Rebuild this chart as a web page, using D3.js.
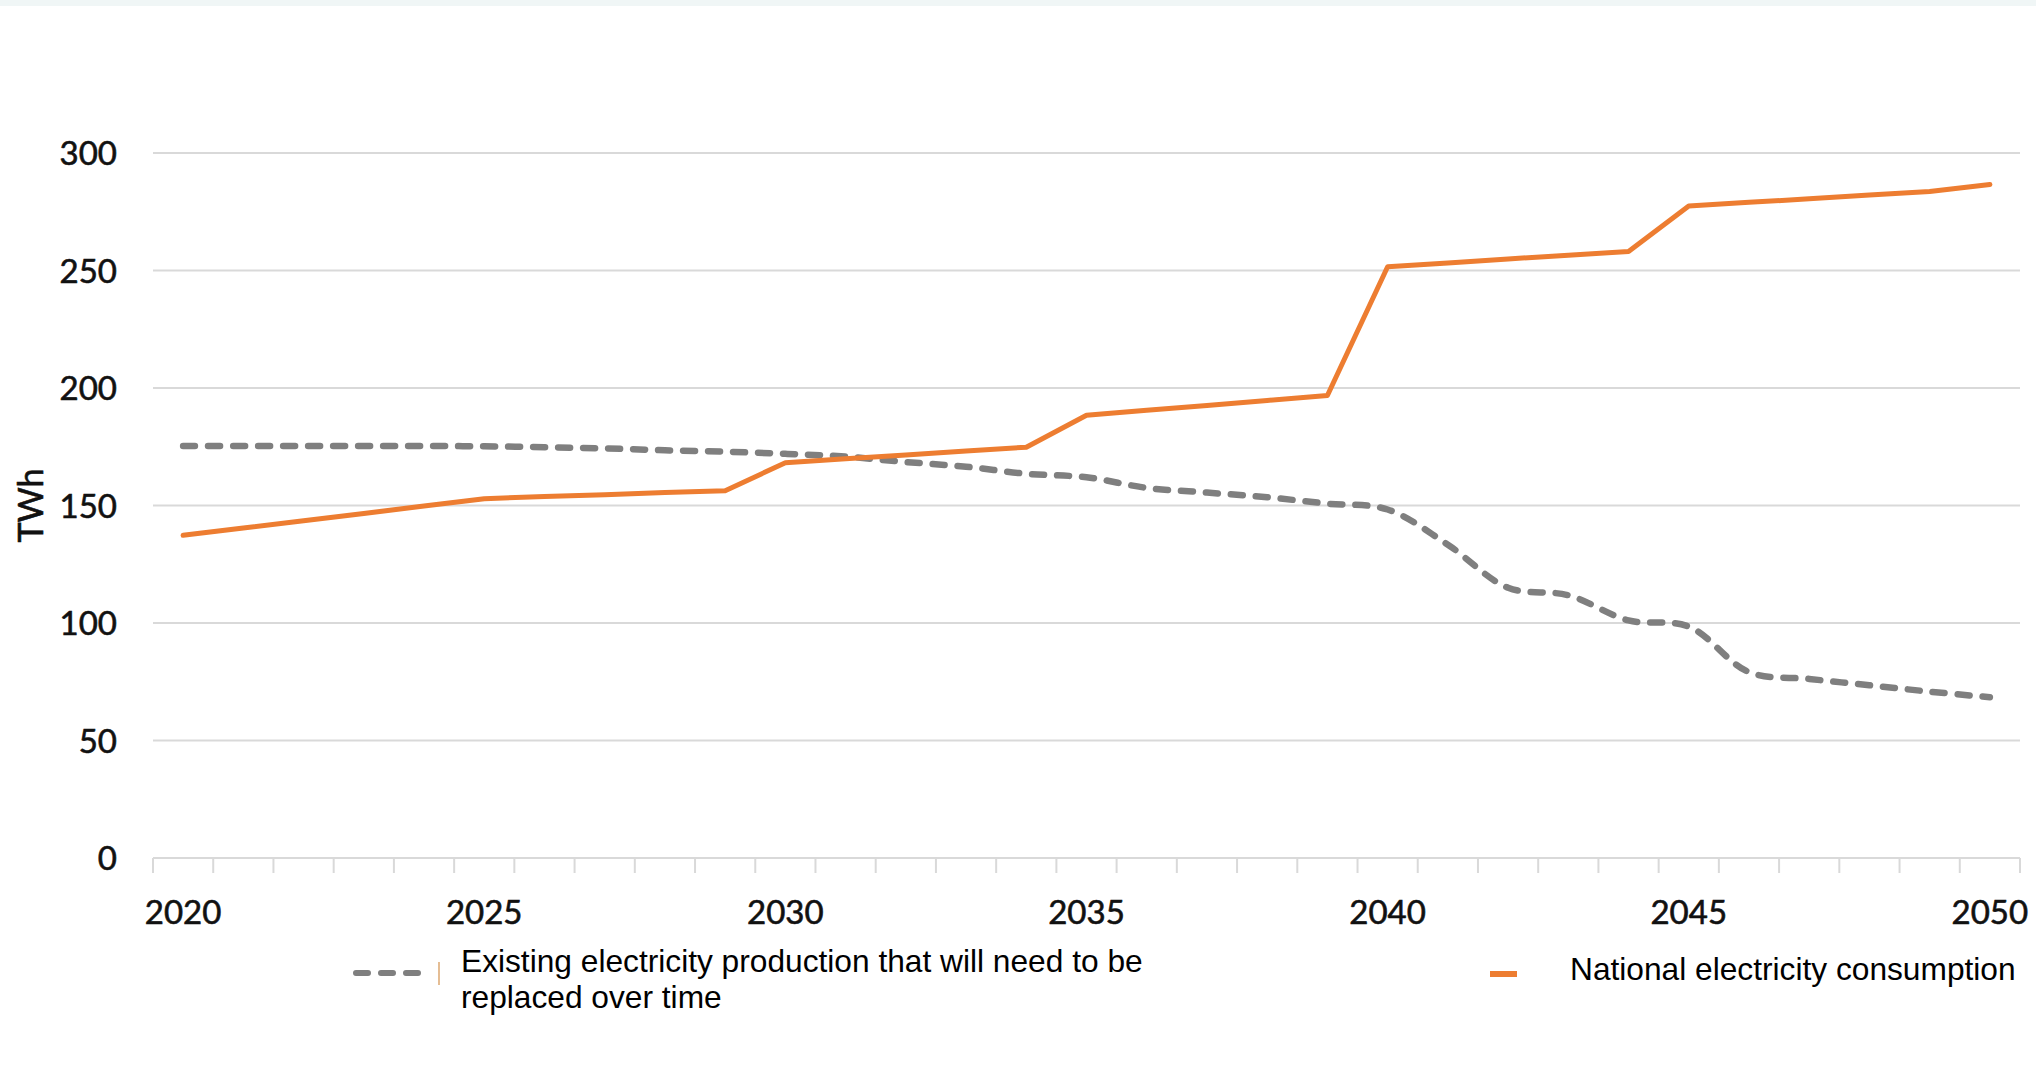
<!DOCTYPE html>
<html lang="en">
<head>
    <meta charset="UTF-8">
    <title>Electricity consumption vs existing production</title>
    <style>
        body {
            margin: 0;
            padding: 0;
            background-color: #fff;
        }

        svg {
            display: block;
        }

        .tick-label {
            font-family: Lato, "Open Sans", sans-serif;
            font-size: 33px;
            fill: #111;
            stroke: #111;
            stroke-width: 0.6px;
        }

        .legend-label {
            font-family: "Liberation Sans", Arial, sans-serif;
            font-size: 31.7px;
            fill: #000;
        }
    </style>
</head>
<body>

<svg width="2036" height="1088" id="chart"></svg>

<script src="https://cdnjs.cloudflare.com/ajax/libs/d3/7.8.5/d3.min.js"></script>
<script>
    // years on the category axis
    const years = d3.range(2020, 2051);
    const yearLabels = [2020, 2025, 2030, 2035, 2040, 2045, 2050];
    const yTicks = [0, 50, 100, 150, 200, 250, 300];

    // National electricity consumption (TWh)
    const consumption = [
        137.3, 140.4, 143.5, 146.6, 149.8, 152.9, 153.8, 154.6, 155.5, 156.3,
        168.2, 169.9, 171.5, 173.2, 174.8, 188.4, 190.5, 192.6, 194.7, 196.8,
        251.6, 253.2, 254.9, 256.5, 258.1, 277.4, 279.0, 280.5, 282.1, 283.6,
        286.6
    ];

    // Existing production that will need to be replaced (TWh)
    const existing = [
        175.3, 175.3, 175.3, 175.3, 175.3, 175.2, 174.8, 174.3, 173.5, 172.9,
        172.0, 170.8, 168.5, 166.5, 163.5, 162.0, 157.5, 155.5, 153.5, 150.8,
        148.3, 133.3, 115.0, 111.8, 101.1, 98.5, 79.1, 76.2, 73.5, 70.8,
        68.4
    ];

    const legendExisting = ["Existing electricity production that will need to be", "replaced over time"];
    const legendConsumption = "National electricity consumption";

    const svg = d3.select("#chart");

    // plot area
    const plotLeft = 153, plotRight = 2020, plotTop = 153, plotBottom = 858;

    const x = d3.scaleBand()
        .domain(years)
        .range([plotLeft, plotRight])
        .paddingInner(0)
        .paddingOuter(0);

    const y = d3.scaleLinear()
        .domain([0, 300])
        .range([plotBottom, plotTop]);

    const cx = d => x(d) + x.bandwidth() / 2;

    // light strip on top
    svg.append("rect")
        .attr("x", 0).attr("y", 0)
        .attr("width", 2036).attr("height", 6)
        .attr("fill", "#f0f6f6");

    // gridlines
    svg.append("g")
        .selectAll("line")
        .data(yTicks)
        .enter().append("line")
        .attr("x1", plotLeft).attr("x2", plotRight)
        .attr("y1", d => y(d)).attr("y2", d => y(d))
        .attr("stroke", "#d9d9d9")
        .attr("stroke-width", 2);

    // tick marks between categories
    const tickPos = years.map(d => x(d)).concat([plotRight]);
    svg.append("g")
        .selectAll("line")
        .data(tickPos)
        .enter().append("line")
        .attr("x1", d => d).attr("x2", d => d)
        .attr("y1", plotBottom).attr("y2", plotBottom + 15)
        .attr("stroke", "#d9d9d9")
        .attr("stroke-width", 2);

    // y labels
    svg.append("g")
        .selectAll("text")
        .data(yTicks)
        .enter().append("text")
        .attr("class", "tick-label")
        .attr("x", 117)
        .attr("y", d => y(d) + 12)
        .attr("text-anchor", "end")
        .text(d => d);

    // x labels
    svg.append("g")
        .selectAll("text")
        .data(yearLabels)
        .enter().append("text")
        .attr("class", "tick-label")
        .attr("x", d => cx(d))
        .attr("y", 924)
        .attr("text-anchor", "middle")
        .text(d => d);

    // axis title
    svg.append("text")
        .attr("class", "tick-label")
        .attr("transform", `translate(43,${(plotTop + plotBottom) / 2}) rotate(-90)`)
        .attr("text-anchor", "middle")
        .style("font-size", "34px")
        .text("TWh");

    // lines
    const existingLine = d3.line()
        .x((d, i) => cx(years[i]))
        .y(d => y(d))
        .curve(d3.curveCatmullRom);

    const consumptionLine = d3.line()
        .x((d, i) => cx(years[i]))
        .y(d => y(d));

    svg.append("path")
        .datum(existing)
        .attr("d", existingLine)
        .attr("fill", "none")
        .attr("stroke", "#7f7f7f")
        .attr("stroke-width", 6.5)
        .attr("stroke-linecap", "round")
        .attr("stroke-dasharray", "12 13");

    svg.append("path")
        .datum(consumption)
        .attr("d", consumptionLine)
        .attr("fill", "none")
        .attr("stroke", "#ed7d31")
        .attr("stroke-width", 5)
        .attr("stroke-linejoin", "round")
        .attr("stroke-linecap", "round");

    // legend
    const legend = svg.append("g");

    legend.append("line")
        .attr("x1", 356).attr("x2", 420)
        .attr("y1", 973).attr("y2", 973)
        .attr("stroke", "#7f7f7f")
        .attr("stroke-width", 6)
        .attr("stroke-linecap", "round")
        .attr("stroke-dasharray", "12 13");

    legend.append("line")
        .attr("x1", 439).attr("x2", 439)
        .attr("y1", 962).attr("y2", 985)
        .attr("stroke", "#d4924e")
        .attr("stroke-width", 1.2);

    legend.append("text")
        .attr("class", "legend-label")
        .selectAll("tspan")
        .data(legendExisting)
        .enter().append("tspan")
        .attr("x", 461)
        .attr("y", (d, i) => 972 + i * 36)
        .text(d => d);

    legend.append("line")
        .attr("x1", 1490).attr("x2", 1517)
        .attr("y1", 974).attr("y2", 974)
        .attr("stroke", "#ed7d31")
        .attr("stroke-width", 6);

    legend.append("text")
        .attr("class", "legend-label")
        .attr("x", 1570)
        .attr("y", 980)
        .text(legendConsumption);
</script>

</body>
</html>
